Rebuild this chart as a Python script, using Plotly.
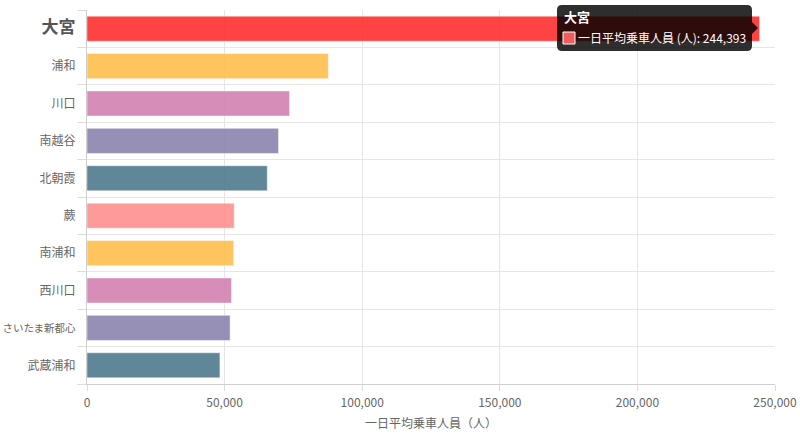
import plotly.graph_objects as go

stations = ["大宮", "浦和", "川口", "南越谷", "北朝霞", "蕨", "南浦和", "西川口", "さいたま新都心", "武蔵浦和"]
riders = [244393, 87700, 73600, 69600, 65500, 53500, 53300, 52500, 52000, 48300]
colors = [
    "rgba(255,33,33,0.85)",
    "rgba(254,187,67,0.85)",
    "rgba(207,121,172,0.85)",
    "rgba(133,124,169,0.85)",
    "rgba(67,114,134,0.85)",
    "rgba(255,136,136,0.85)",
    "rgba(254,187,67,0.85)",
    "rgba(207,121,172,0.85)",
    "rgba(133,124,169,0.85)",
    "rgba(67,114,134,0.85)",
]
x_ticks = [0, 50000, 100000, 150000, 200000, 250000]
x_title = "一日平均乗車人員（人）"
series_name = "一日平均乗車人員 (人)"

FONT = "Noto Sans CJK JP, Noto Sans, sans-serif"
# plot area on screen: x 87..775, y 10..384 (page body margin removed by post_script)
W, H = 800, 435
L, T = 87, 10
R = W - 775
B = H - 384
PW, PH = W - L - R, H - T - B


def X(px):
    return (px - L) / PW


def Y(py):
    return (H - B - py) / PH


def label(i, s):
    if i == 0:
        return "<b><span style='font-size:17px;color:#555'>%s</span></b>" % s
    if len(s) > 5:
        return "<span style='font-size:10.5px'>%s</span>" % s
    return s


ticktext = [label(i, s) for i, s in enumerate(stations)]

fig = go.Figure(
    go.Bar(
        x=riders,
        y=stations,
        orientation="h",
        width=0.67,
        marker=dict(color=colors, line=dict(color="rgba(255,255,255,0.45)", width=1)),
        hoverinfo="skip",
    )
)

fig.update_layout(
    width=W,
    height=H,
    margin=dict(l=L, r=R, t=T, b=B, autoexpand=False),
    paper_bgcolor="white",
    plot_bgcolor="white",
    showlegend=False,
    font=dict(family=FONT, size=12, color="#666"),
    xaxis=dict(
        range=[0, 250000],
        tickvals=x_ticks,
        ticktext=[f"{v:,}" for v in x_ticks],
        showgrid=True,
        gridcolor="#e6e6e6",
        gridwidth=1,
        zeroline=False,
        showline=True,
        linecolor="#cfcfcf",
        ticks="outside",
        ticklen=6,
        tickcolor="#dddddd",
        tickfont=dict(size=12, color="#666"),
        ticklabelstandoff=2,
        title=dict(text=x_title, font=dict(size=12, color="#666"), standoff=10),
        automargin=False,
        fixedrange=True,
    ),
    yaxis=dict(
        type="category",
        categoryorder="array",
        categoryarray=stations,
        autorange="reversed",
        tickvals=stations,
        ticktext=ticktext,
        tickson="boundaries",
        showgrid=True,
        gridcolor="#e6e6e6",
        gridwidth=1,
        zeroline=False,
        showline=True,
        linecolor="#cfcfcf",
        ticks="outside",
        ticklen=9,
        tickcolor="#dddddd",
        tickfont=dict(size=12, color="#666"),
        ticklabelstandoff=8,
        automargin=False,
        fixedrange=True,
    ),
)

# Static tooltip for the top bar (screen pixel coordinates)
x0, x1, y0, y1, r = 557, 752, 5, 51, 5
cx, cy = 758, 28
pts = [
    ("M", x0 + r, y0), ("L", x1 - r, y0), ("Q", x1, y0, x1, y0 + r),
    ("L", x1, cy - 6), ("L", cx, cy), ("L", x1, cy + 6),
    ("L", x1, y1 - r), ("Q", x1, y1, x1 - r, y1),
    ("L", x0 + r, y1), ("Q", x0, y1, x0, y1 - r),
    ("L", x0, y0 + r), ("Q", x0, y0, x0 + r, y0),
]
path = ""
for p in pts:
    cmd = p[0]
    coords = p[1:]
    segs = []
    for i in range(0, len(coords), 2):
        segs.append(f"{X(coords[i]):.5f},{Y(coords[i+1]):.5f}")
    path += cmd + " ".join(segs) + " "
path += "Z"

fig.add_shape(type="path", path=path, xref="paper", yref="paper",
              fillcolor="rgba(0,0,0,0.82)", line=dict(width=0), layer="above")
fig.add_shape(type="rect", xref="paper", yref="paper",
              x0=X(563), x1=X(575), y0=Y(44), y1=Y(32),
              fillcolor="#f25c5c", line=dict(color="white", width=1), layer="above")
fig.add_annotation(xref="paper", yref="paper", x=X(562), y=Y(17), xanchor="left", yanchor="middle",
                   text="<b>%s</b>" % stations[0], showarrow=False,
                   font=dict(family=FONT, size=13, color="white"))
fig.add_annotation(xref="paper", yref="paper", x=X(576), y=Y(38), xanchor="left", yanchor="middle",
                   text="%s: %s" % (series_name, f"{riders[0]:,}"), showarrow=False,
                   font=dict(family=FONT, size=12, color="white"))

fig.write_html(
    "out.html",
    config={"displayModeBar": False, "staticPlot": True},
    post_script="document.body.style.margin='0px';document.body.style.overflow='hidden';",
)
